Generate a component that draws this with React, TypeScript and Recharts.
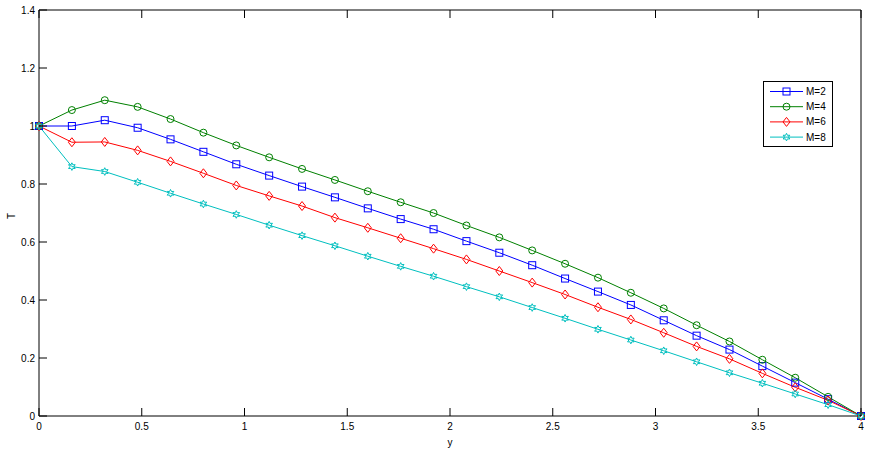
import { LineChart, Line, XAxis, YAxis, Legend } from 'recharts';

const yPos = [0, 0.16, 0.32, 0.48, 0.64, 0.8, 0.96, 1.12, 1.28, 1.44, 1.6, 1.76, 1.92, 2.08, 2.24, 2.4, 2.56, 2.72, 2.88, 3.04, 3.2, 3.36, 3.52, 3.68, 3.84, 4];
const m2 = [1, 1.0, 1.02, 0.994, 0.954, 0.911, 0.868, 0.829, 0.791, 0.754, 0.716, 0.679, 0.644, 0.603, 0.563, 0.52, 0.474, 0.429, 0.383, 0.33, 0.277, 0.229, 0.172, 0.115, 0.058, 0];
const m4 = [1, 1.055, 1.089, 1.066, 1.024, 0.977, 0.933, 0.892, 0.852, 0.814, 0.775, 0.737, 0.7, 0.657, 0.616, 0.571, 0.525, 0.477, 0.425, 0.371, 0.313, 0.257, 0.194, 0.132, 0.066, 0];
const m6 = [1, 0.944, 0.945, 0.916, 0.878, 0.837, 0.795, 0.759, 0.724, 0.684, 0.649, 0.613, 0.577, 0.54, 0.5, 0.46, 0.419, 0.375, 0.333, 0.287, 0.24, 0.197, 0.147, 0.099, 0.054, 0];
const m8 = [1, 0.86, 0.843, 0.806, 0.768, 0.731, 0.695, 0.658, 0.622, 0.587, 0.551, 0.516, 0.482, 0.446, 0.411, 0.374, 0.337, 0.299, 0.262, 0.225, 0.187, 0.149, 0.113, 0.076, 0.039, 0];

const xTicks = [0, 0.5, 1, 1.5, 2, 2.5, 3, 3.5, 4];
const yTicks = [0, 0.2, 0.4, 0.6, 0.8, 1, 1.2, 1.4];

const series = [
  { key: 'm2', name: 'M=2', color: '#0000ff', shape: 'square' },
  { key: 'm4', name: 'M=4', color: '#008000', shape: 'circle' },
  { key: 'm6', name: 'M=6', color: '#ff0000', shape: 'diamond' },
  { key: 'm8', name: 'M=8', color: '#00bfbf', shape: 'hexagram' },
];

const data = yPos.map((y, i) => ({ y, m2: m2[i], m4: m4[i], m6: m6[i], m8: m8[i] }));

const FONT = '"Liberation Sans", Arial, sans-serif';

function starPath(cx: number, cy: number, ro: number, ri: number) {
  let d = '';
  for (let i = 0; i < 12; i++) {
    const r = i % 2 === 0 ? ro : ri;
    const a = (Math.PI / 6) * i - Math.PI / 2;
    d += (i === 0 ? 'M' : 'L') + (cx + r * Math.cos(a)).toFixed(2) + ',' + (cy + r * Math.sin(a)).toFixed(2);
  }
  return d + 'Z';
}

function Marker({ cx, cy, color, shape }: { cx: number; cy: number; color: string; shape: string }) {
  if (cx == null || cy == null) return null;
  if (shape === 'square') return <rect x={cx - 3.5} y={cy - 3.5} width={7} height={7} fill="none" stroke={color} strokeWidth={1} />;
  if (shape === 'circle') return <circle cx={cx} cy={cy} r={3.5} fill="none" stroke={color} strokeWidth={1} />;
  if (shape === 'diamond')
    return <path d={`M${cx},${cy - 4.5}L${cx + 3.5},${cy}L${cx},${cy + 4.5}L${cx - 3.5},${cy}Z`} fill="none" stroke={color} strokeWidth={1} />;
  return <path d={starPath(cx, cy, 3.8, 2)} fill="none" stroke={color} strokeWidth={1} />;
}

const BottomTick = (p: any) => (
  <g>
    <line x1={p.x} y1={p.y} x2={p.x} y2={p.y - 8} stroke="#000" />
    <text x={p.x} y={p.y + 14} textAnchor="middle" fontSize={10} fontFamily={FONT} fill="#000">
      {p.payload.value}
    </text>
  </g>
);
const TopTick = (p: any) => <line x1={p.x} y1={p.y} x2={p.x} y2={p.y + 8} stroke="#000" />;
const LeftTick = (p: any) => (
  <g>
    <line x1={p.x} y1={p.y} x2={p.x + 8} y2={p.y} stroke="#000" />
    <text x={p.x - 4} y={p.y + 4} textAnchor="end" fontSize={10} fontFamily={FONT} fill="#000">
      {p.payload.value}
    </text>
  </g>
);
const RightTick = (p: any) => <line x1={p.x} y1={p.y} x2={p.x - 8} y2={p.y} stroke="#000" />;

const LegendBox = () => (
  <svg width={70} height={66} style={{ display: 'block' }}>
    <rect x={0.5} y={0.5} width={69} height={65} fill="#fff" stroke="#000" />
    {series.map((s, i) => {
      const cy = 10.5 + i * 15.2;
      return (
        <g key={s.key}>
          <line x1={7} y1={cy} x2={40} y2={cy} stroke={s.color} />
          <Marker cx={23.5} cy={cy} color={s.color} shape={s.shape} />
          <text x={43} y={cy + 3.5} fontSize={10} fontFamily={FONT} fill="#000">
            {s.name}
          </text>
        </g>
      );
    })}
  </svg>
);

export default function App() {
  return (
    <div style={{ position: 'absolute', left: 0, top: 0, background: '#fff' }}>
      <LineChart width={872} height={455} data={data} margin={{ top: 9, right: 10, bottom: 38, left: 38 }}>
        <XAxis
          dataKey="y"
          type="number"
          domain={[0, 4]}
          ticks={xTicks}
          height={1}
          tickSize={0}
          tickMargin={0}
          tick={BottomTick}
          axisLine={{ stroke: '#000' }}
          tickLine={false}
          interval={0}
          label={{ value: 'y', position: 'bottom', offset: 22, fontSize: 10, fontFamily: FONT, fill: '#000' }}
        />
        <XAxis
          xAxisId="top"
          orientation="top"
          dataKey="y"
          type="number"
          domain={[0, 4]}
          ticks={xTicks}
          height={1}
          tickSize={0}
          tickMargin={0}
          tick={TopTick}
          axisLine={{ stroke: '#000' }}
          tickLine={false}
          interval={0}
        />
        <YAxis
          type="number"
          domain={[0, 1.4]}
          ticks={yTicks}
          width={1}
          tickSize={0}
          tickMargin={0}
          tick={LeftTick}
          axisLine={{ stroke: '#000' }}
          tickLine={false}
          interval={0}
          label={{ value: 'T', angle: -90, position: 'left', offset: 27, fontSize: 10, fontFamily: FONT, fill: '#000' }}
        />
        <YAxis
          yAxisId="right"
          orientation="right"
          type="number"
          domain={[0, 1.4]}
          ticks={yTicks}
          width={1}
          tickSize={0}
          tickMargin={0}
          tick={RightTick}
          axisLine={{ stroke: '#000' }}
          tickLine={false}
          interval={0}
        />
        {series.map((s) => (
          <Line
            key={s.key}
            dataKey={s.key}
            name={s.name}
            type="linear"
            stroke={s.color}
            strokeWidth={1}
            isAnimationActive={false}
            dot={(p: any) => <Marker key={`${s.key}-${p.index}`} cx={p.cx} cy={p.cy} color={s.color} shape={s.shape} />}
            activeDot={false}
          />
        ))}
        <Legend
          layout="horizontal"
          verticalAlign="middle"
          align="center"
          content={LegendBox}
          wrapperStyle={{ left: 763, top: 81, width: 70, height: 66 }}
        />
      </LineChart>
    </div>
  );
}
